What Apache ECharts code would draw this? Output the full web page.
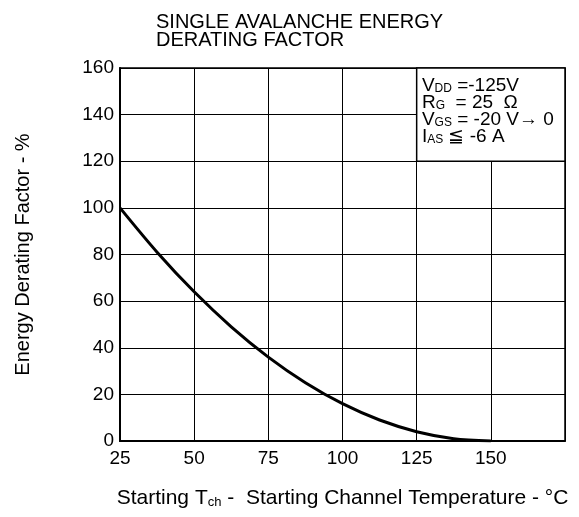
<!DOCTYPE html>
<html>
<head>
<meta charset="utf-8">
<script src="https://cdn.jsdelivr.net/npm/echarts@6/dist/echarts.min.js"></script>
<style>
  html, body { margin: 0; padding: 0; background: #fff; }
  #main { width: 579px; height: 517px; }
</style>
</head>
<body>
<div id="main"></div>
<script>
const temps = [25, 37.5, 50, 62.5, 75, 87.5, 100, 112.5, 125, 137.5, 150]
const factor = [100, 81, 64, 49, 36, 25, 16, 9, 4, 1, 0]
const xTicks = [25, 50, 75, 100, 125, 150]
const yTicks = [0, 20, 40, 60, 80, 100, 120, 140, 160]

const font = '"Liberation Sans", Arial, sans-serif'

const chart = echarts.init(document.getElementById('main'))

const option = {
  animation: false,
  backgroundColor: '#fff',
  textStyle: { fontFamily: font, color: '#000' },
  title: {
    text: 'SINGLE AVALANCHE ENERGY\nDERATING FACTOR',
    left: 151,
    top: 8,
    textStyle: { fontFamily: font, fontSize: 20, fontWeight: 'normal', color: '#000', lineHeight: 18 }
  },
  grid: {
    left: 120, top: 68, right: 14, bottom: 76,
    outerBoundsMode: 'none',
    show: true, borderColor: '#000', borderWidth: 1.5
  },
  xAxis: {
    type: 'value',
    min: 25,
    max: 175,
    interval: 25,
    name: 'Starting T{sub|ch} -  Starting Channel Temperature - °C',
    nameLocation: 'middle',
    nameGap: 47,
    nameTextStyle: {
      fontFamily: font, fontSize: 21, color: '#000',
      rich: { sub: { fontFamily: font, fontSize: 13, color: '#000', verticalAlign: 'bottom', padding: [5, 0, 0, 0] } }
    },
    axisLine: { lineStyle: { color: '#000', width: 2 } },
    axisTick: { show: false },
    axisLabel: {
      color: '#000', fontFamily: font, fontSize: 19, margin: 8,
      formatter: v => xTicks.includes(v) ? String(v) : ''
    },
    splitLine: { show: true, lineStyle: { color: '#000', width: 1 } }
  },
  yAxis: {
    type: 'value',
    min: 0,
    max: 160,
    interval: 20,
    name: 'Energy Derating Factor - %',
    nameLocation: 'middle',
    nameGap: 87,
    nameTextStyle: { fontFamily: font, fontSize: 20, color: '#000' },
    axisLine: { show: true, lineStyle: { color: '#000', width: 2 } },
    axisTick: { show: false },
    axisLabel: {
      color: '#000', fontFamily: font, fontSize: 19, margin: 6,
      formatter: v => yTicks.includes(v) ? String(v) : ''
    },
    splitLine: { show: true, lineStyle: { color: '#000', width: 1 } }
  },
  series: [
    {
      type: 'line',
      smooth: 0.3,
      symbol: 'none',
      lineStyle: { color: '#000', width: 3 },
      data: temps.map((t, i) => [t, factor[i]]),
      markArea: {
        silent: true,
        itemStyle: { color: '#fff', borderColor: '#000', borderWidth: 1.5, opacity: 1 },
        label: {
          show: true,
          position: [6, 10],
          fontFamily: font,
          fontSize: 19,
          color: '#000',
          lineHeight: 17,
          align: 'left',
          verticalAlign: 'top',
          formatter: 'V{s|DD} =-125V\nR{s|G}  = 25  Ω\nV{s|GS} = -20 V→ 0\nI{s|AS} ≦ -6 A',
          rich: { s: { fontFamily: font, fontSize: 12, color: '#000', lineHeight: 17, verticalAlign: 'bottom' } }
        },
        data: [[{ coord: [125, 160] }, { coord: [175, 120] }]]
      }
    }
  ]
}

chart.setOption(option)
</script>
</body>
</html>
